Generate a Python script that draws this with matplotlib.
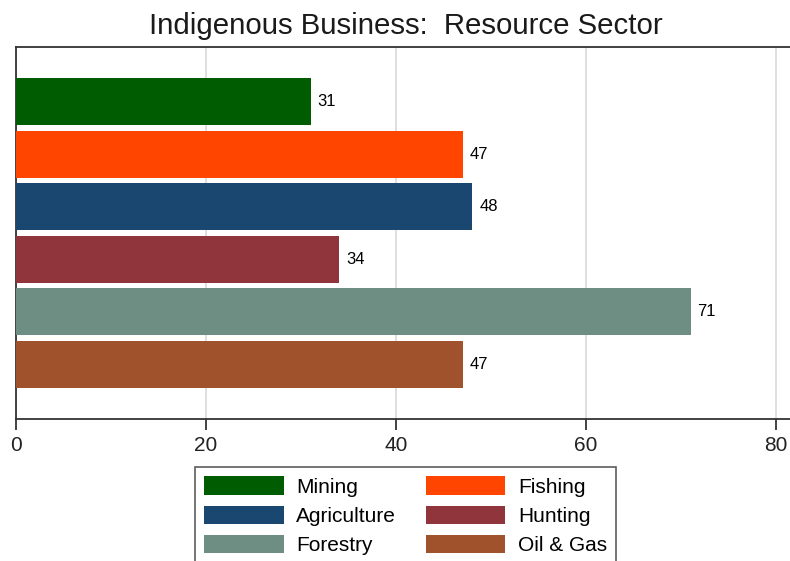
import matplotlib.pyplot as plt

plt.rcParams['font.family'] = ['Liberation Sans', 'DejaVu Sans']

sectors = ["Mining", "Fishing", "Agriculture", "Hunting", "Forestry", "Oil & Gas"]
counts = [31, 47, 48, 34, 71, 47]
colors = ["#005c00", "#ff4500", "#1a476f", "#90353b", "#6e8e84", "#a0522d"]

W, H = 790, 561
fig = plt.figure(figsize=(W / 100, H / 100), dpi=100)
# plot region in pixels: left 16, right ~795, top 47, bottom 419
ax = fig.add_axes([16 / W, 1 - 419 / H, (795 - 16) / W, (419 - 47) / H])

ypos = list(range(len(sectors)))
bars = ax.barh(ypos, counts, height=0.89, color=colors, zorder=3)
for y, v in zip(ypos, counts):
    ax.text(v + 0.75, y, str(v), va='center', ha='left', fontsize=12, color='black')

ax.set_xlim(0, 82)
ax.set_ylim(5 + 1.036, -1.036)
ax.set_xticks([0, 20, 40, 60, 80])
ax.set_yticks([])
ax.grid(axis='x', color='#dcdcdc', linewidth=1.3, zorder=0)
ax.tick_params(axis='x', length=8, width=1.2, labelsize=15, pad=4, colors='#222222')
for side in ['left', 'top', 'bottom']:
    ax.spines[side].set_linewidth(1.3)
    ax.spines[side].set_color('#333333')
ax.spines['right'].set_visible(False)

ax.set_title("Indigenous Business:  Resource Sector", fontsize=21.2, pad=9, color='#1a1a1a')

# legend laid out in two rows-first columns
order = [0, 2, 4, 1, 3, 5]
leg = fig.legend([bars[i] for i in order], [sectors[i] for i in order],
                 loc='upper left', bbox_to_anchor=(195 / W, 1 - 467 / H),
                 ncol=2, fontsize=15, frameon=True, fancybox=False,
                 handlelength=3.8, handleheight=1.0, handletextpad=0.6,
                 columnspacing=1.45, labelspacing=0.42, borderpad=0.45,
                 borderaxespad=0)
leg.get_frame().set_edgecolor('#333333')
leg.get_frame().set_linewidth(1.2)

fig.savefig("out.png", dpi=100)
